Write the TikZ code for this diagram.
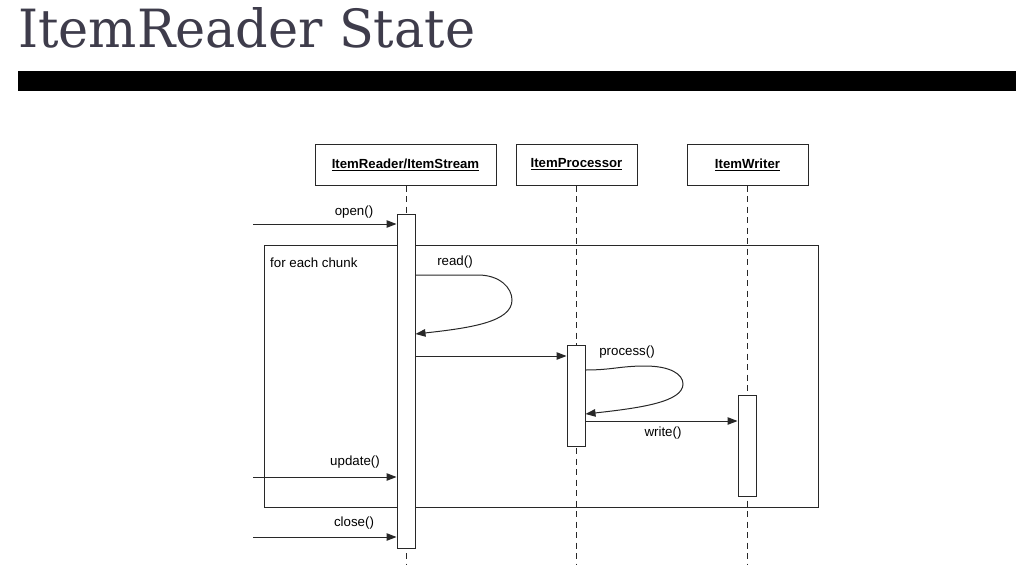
\documentclass[tikz,border=0pt]{standalone}
\usepackage{fontspec}
\setmainfont{Liberation Sans}
\newfontfamily\titlefont{DejaVu Serif}
\usetikzlibrary{arrows.meta}
\definecolor{titlecol}{RGB}{62,60,75}
\definecolor{linecol}{RGB}{40,40,40}
\begin{document}
\begin{tikzpicture}[x=1pt,y=-1pt,
  lbl/.style={inner sep=0pt,font=\fontsize{13.3}{15}\selectfont,text=black},
  hdr/.style={draw=linecol,line width=1pt,minimum height=41pt,inner sep=0pt,font=\fontsize{13.2}{15}\selectfont\bfseries,fill=white},
  actbar/.style={draw=linecol,line width=1pt,fill=white,minimum width=18pt,inner sep=0pt},
  lifeln/.style={draw=linecol,line width=1pt,dash pattern=on 6pt off 4.5pt},
  msg/.style={draw=linecol,line width=1pt,-{Triangle[length=10pt,width=7.5pt]}},
  frm/.style={draw=linecol,line width=1pt}
]
\useasboundingbox (0,0) rectangle (1016,581);
% title
\node[anchor=base west,inner sep=0pt,text=titlecol] (title) at (18,47)
  {\resizebox{457pt}{40pt}{\titlefont ItemReader State}};
\fill[black] (18,71) rectangle (1016,91);
% headers
\node[hdr,minimum width=181pt] (hIR) at (405.5,164.5) {\underline{ItemReader/ItemStream}};
\node[hdr,minimum width=121pt] (hIP) at (576.5,164.5) {\underline{ItemProcessor}};
\node[hdr,minimum width=121pt] (hIW) at (747.5,164.5) {\underline{ItemWriter}};
% lifeline ends
\coordinate (eIR) at (406,565);
\coordinate (eIP) at (576.5,565);
\coordinate (eIW) at (747.5,565);
\draw[lifeln] (hIR.south -| eIR) -- (eIR);
\draw[lifeln] (hIP.south) -- (eIP);
\draw[lifeln] (hIW.south) -- (eIW);
% frame
\node[frm,anchor=north west,minimum width=554pt,minimum height=262pt,inner sep=0pt] (loop) at (264,245) {};
\node[lbl,anchor=west] (loopl) at (270,262.5) {for each chunk};
% activation bars
\node[actbar,minimum height=334pt] (aIR) at (406,381) {};
\node[actbar,minimum height=101pt] (aIP) at (576,396) {};
\node[actbar,minimum height=101pt] (aIW) at (747,446) {};
% open
\coordinate (sOpen) at (253,224);
\draw[msg] (sOpen) -- (sOpen -| aIR.west);
\node[lbl] (lOpen) at (354,212) {open()};
% read self call
\coordinate (rA) at (0,275);
\coordinate (rB) at (0,334);
\draw[msg] (aIR.east |- rA) -- (478,275) .. controls (500,275) and (512,288) .. (512,300)
  .. controls (512,322) and (470,328) .. (aIR.east |- rB);
\node[lbl] (lRead) at (455,262) {read()};
% IR -> IP
\coordinate (rC) at (0,356);
\draw[msg] (aIR.east |- rC) -- (aIP.west |- rC);
% process self call
\coordinate (pA) at (0,370);
\coordinate (pB) at (0,414);
\draw[msg] (aIP.east |- pA) .. controls (612,370) and (620,366) .. (645,366)
  .. controls (670,366) and (683,374) .. (683,384)
  .. controls (683,402) and (640,408) .. (aIP.east |- pB);
\node[lbl] (lProc) at (627,352) {process()};
% write
\coordinate (wA) at (0,421);
\draw[msg] (aIP.east |- wA) -- (aIW.west |- wA);
\node[lbl] (lWrite) at (663,433) {write()};
% update
\coordinate (sUpd) at (253,477);
\draw[msg] (sUpd) -- (sUpd -| aIR.west);
\node[lbl] (lUpd) at (355,462.5) {update()};
% close
\coordinate (sCls) at (253,537);
\draw[msg] (sCls) -- (sCls -| aIR.west);
\node[lbl] (lCls) at (354,523) {close()};
\end{tikzpicture}
\end{document}
